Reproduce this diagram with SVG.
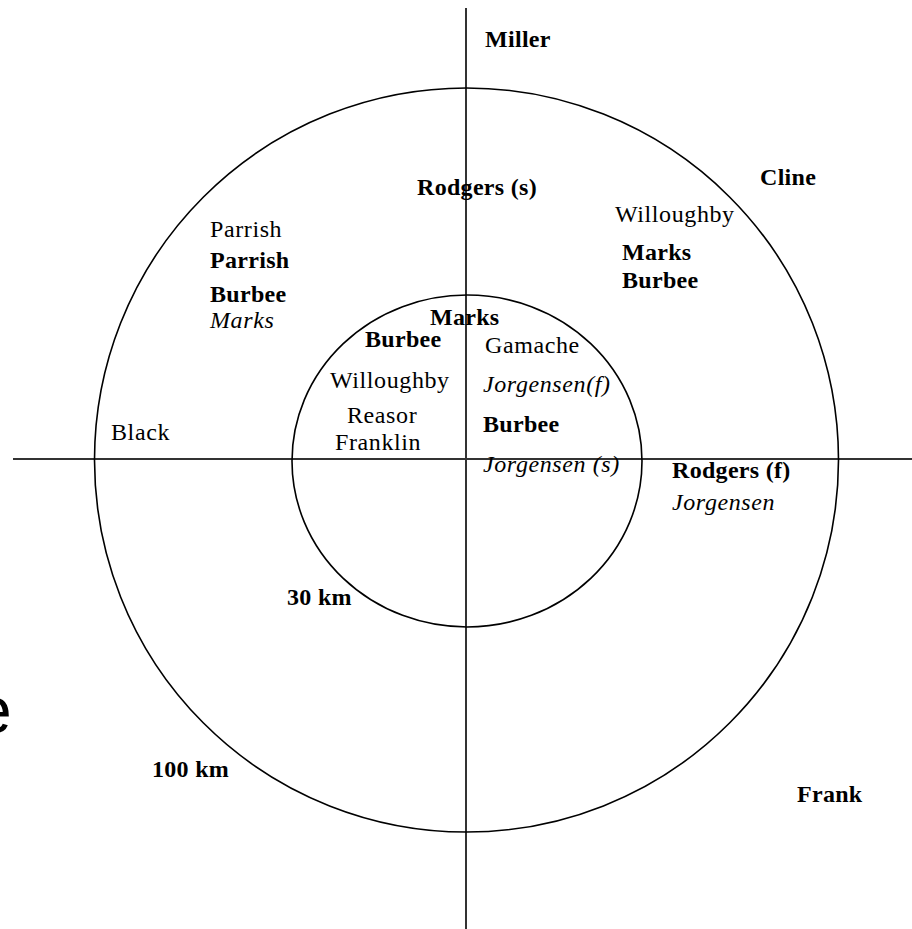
<svg xmlns="http://www.w3.org/2000/svg" width="912" height="929" viewBox="0 0 912 929">
<style>
text{font-family:"Liberation Serif","Times New Roman",serif;font-size:24px;letter-spacing:0.6px;fill:#000}
.b{font-weight:bold;letter-spacing:0.3px}
.i{font-style:italic}
.ax{stroke:#333;stroke-width:2;fill:none}
.c{stroke:#000;stroke-width:1.6;fill:none}
</style>
<rect width="912" height="929" fill="#fff"/>
<g id="connectors">
<line class="ax" x1="466" y1="8" x2="466" y2="929"/>
<line class="ax" x1="13" y1="459" x2="912" y2="459"/>
</g>
<g id="outer"><ellipse class="c" cx="466.5" cy="460" rx="372" ry="372"/></g>
<g id="inner"><ellipse class="c" cx="467" cy="461" rx="175" ry="166"/></g>
<g id="labels">
<text x="-25" y="733" style="font-family:'Liberation Sans',Arial,sans-serif;font-size:66px;letter-spacing:0">e</text>
<text class="b" x="485" y="47">Miller</text>
<text class="b" x="417" y="195">Rodgers (s)</text>
<text class="b" x="760" y="185">Cline</text>
<text x="615" y="222">Willoughby</text>
<text class="b" x="622" y="260">Marks</text>
<text class="b" x="622" y="288">Burbee</text>
<text x="210" y="237">Parrish</text>
<text class="b" x="210" y="268">Parrish</text>
<text class="b" x="210" y="302">Burbee</text>
<text class="i" x="210" y="328">Marks</text>
<text x="111" y="440">Black</text>
<text class="b" x="430" y="325">Marks</text>
<text class="b" x="365" y="347">Burbee</text>
<text x="485" y="353">Gamache</text>
<text x="330" y="388">Willoughby</text>
<text class="i" x="483" y="392">Jorgensen(f)</text>
<text x="347" y="423">Reasor</text>
<text x="335" y="450">Franklin</text>
<text class="b" x="483" y="432">Burbee</text>
<text class="i" x="483" y="472">Jorgensen (s)</text>
<text class="b" x="672" y="478">Rodgers (f)</text>
<text class="i" x="672" y="510">Jorgensen</text>
<text class="b" x="287" y="605">30 km</text>
<text class="b" x="152" y="777">100 km</text>
<text class="b" x="797" y="802">Frank</text>
</g>
</svg>
